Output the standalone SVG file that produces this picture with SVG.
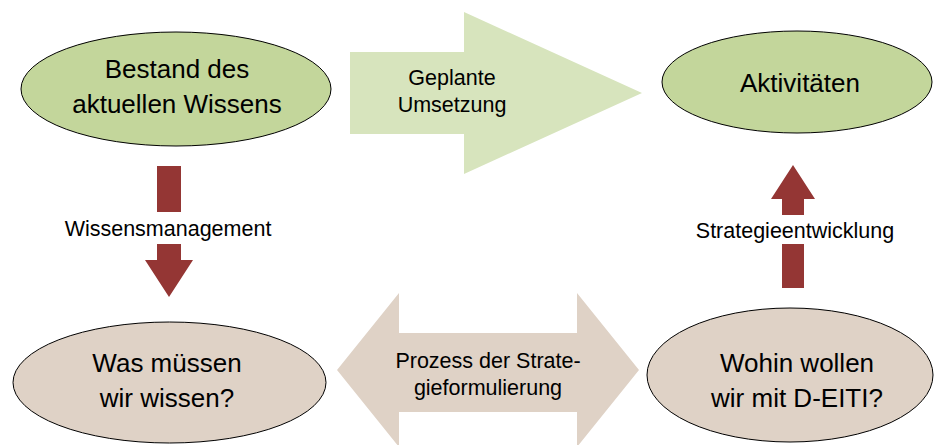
<svg xmlns="http://www.w3.org/2000/svg" width="935" height="445" viewBox="0 0 935 445">
<style>
.big{font-family:"Liberation Sans",Arial,sans-serif;font-size:26px;fill:#000;text-anchor:middle}
.sm{font-family:"Liberation Sans",Arial,sans-serif;font-size:21.5px;fill:#000;text-anchor:middle}
.green{fill:#C3D69B;stroke:#000;stroke-width:1}
.beige{fill:#DFD2C6;stroke:#000;stroke-width:1}
.red{fill:#943634}
</style>
<rect width="935" height="445" fill="#fff"/>
<g id="connectors">
<g id="arrow-geplante">
<polygon points="350,52 464,52 464,12 642,93 464,174 464,134 350,134" fill="#D7E4BD"/>
<text class="sm" x="452" y="85">Geplante</text>
<text class="sm" x="452" y="112">Umsetzung</text>
</g>
<g id="arrow-wissensmanagement">
<polygon class="red" points="157,166 181,166 181,260 193,260 169,297 145,260 157,260"/>
<rect x="58" y="212" width="222" height="32" fill="#fff"/>
<text class="sm" x="168" y="236">Wissensmanagement</text>
</g>
<g id="arrow-strategieentwicklung">
<polygon class="red" points="793,165 815,199 804,199 804,288 782,288 782,199 771,199"/>
<rect x="686" y="215" width="218" height="29" fill="#fff"/>
<text class="sm" x="795" y="238">Strategieentwicklung</text>
</g>
<g id="arrow-prozess">
<polygon points="337,370 399,293 399,333 577,333 577,293 639,370 577,447 577,412 399,412 399,447" fill="#DFD2C6"/>
<text class="sm" x="488" y="368">Prozess der Strate-</text>
<text class="sm" x="488" y="395">gieformulierung</text>
</g>
</g>
<g id="node-bestand">
<ellipse class="green" cx="176" cy="89" rx="155" ry="57"/>
<text class="big" x="177" y="78">Bestand des</text>
<text class="big" x="177" y="113">aktuellen Wissens</text>
</g>
<g id="node-aktivitaeten">
<ellipse class="green" cx="797" cy="82" rx="135" ry="51"/>
<text class="big" x="800" y="92">Aktivitäten</text>
</g>
<g id="node-was">
<ellipse class="beige" cx="169.5" cy="382.5" rx="156.5" ry="60.5"/>
<text class="big" x="167" y="372">Was müssen</text>
<text class="big" x="167" y="407">wir wissen?</text>
</g>
<g id="node-wohin">
<ellipse class="beige" cx="790" cy="375" rx="143" ry="67"/>
<text class="big" x="797" y="372">Wohin wollen</text>
<text class="big" x="797" y="407">wir mit D-EITI?</text>
</g>
</svg>
